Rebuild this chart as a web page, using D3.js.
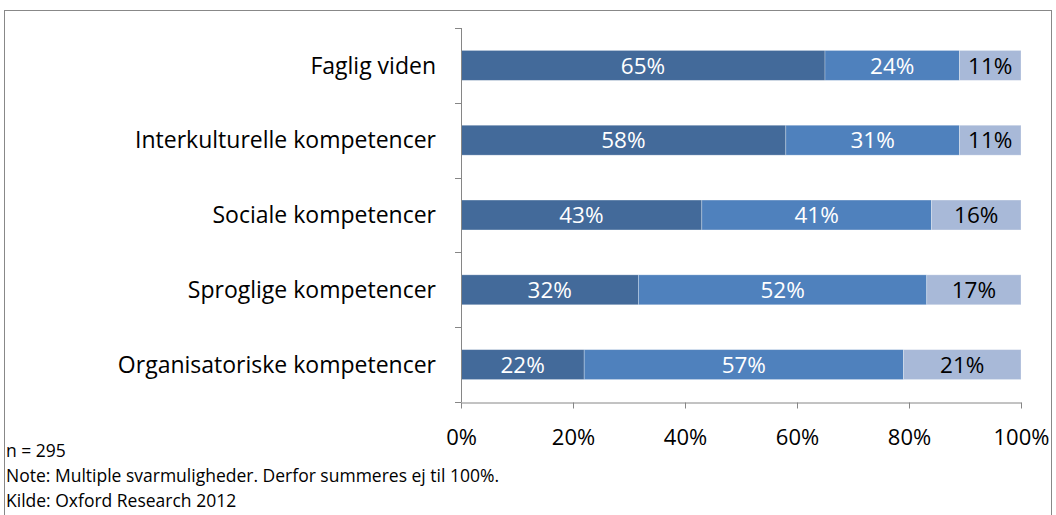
<!DOCTYPE html>
<html>
<head>
<meta charset="utf-8">
<script src="https://cdn.jsdelivr.net/npm/d3@7"></script>
<style>
  body { margin: 0; background: #fff; }
  text { font-family: "Open Sans", "Noto Sans", sans-serif; }
</style>
</head>
<body>
<div id="chart"></div>
<script>
var categories = ["Faglig viden", "Interkulturelle kompetencer", "Sociale kompetencer", "Sproglige kompetencer", "Organisatoriske kompetencer"];
var seriesA = [65, 58, 43, 32, 22];
var seriesB = [24, 31, 41, 52, 57];
var seriesC = [11, 11, 16, 17, 21];
var xTicks = [0, 0.2, 0.4, 0.6, 0.8, 1];
var notes = ["n = 295", "Note: Multiple svarmuligheder. Derfor summeres ej til 100%.", "Kilde: Oxford Research 2012"];

var colors = ["#436a9a", "#4f81bd", "#a8b9d8"];
var labelColors = ["#fff", "#fff", "#000"];

var width = 1056, height = 515;
var svg = d3.select("#chart").append("svg")
  .attr("width", width)
  .attr("height", height);

// outer frame
svg.append("rect")
  .attr("x", 4.5).attr("y", 10.5)
  .attr("width", 1047).attr("height", 520)
  .attr("fill", "none")
  .attr("stroke", "#888")
  .attr("stroke-width", 1);

var rows = categories.map(function(c, i) {
  return { cat: c, a: seriesA[i], b: seriesB[i], c: seriesC[i] };
});

// 100% stacked: each row is scaled to its own total
var stack = d3.stack().keys(["a", "b", "c"]).offset(d3.stackOffsetExpand);
var layers = stack(rows);

var x = d3.scaleLinear().domain([0, 1]).range([461, 1021]);
var y = d3.scaleBand().domain(categories).range([28, 402])
  .paddingInner(0.6).paddingOuter(0.3);

var g = svg.append("g");

layers.forEach(function(layer, li) {
  var lg = g.append("g");
  lg.selectAll("rect")
    .data(layer)
    .enter().append("rect")
    .attr("x", function(d) { return x(d[0]); })
    .attr("y", function(d) { return y(d.data.cat); })
    .attr("width", function(d) { return x(d[1]) - x(d[0]); })
    .attr("height", y.bandwidth())
    .attr("fill", colors[li])
    .attr("stroke", "rgba(255,255,255,0.35)")
    .attr("stroke-width", 0.8);

  lg.selectAll("text")
    .data(layer)
    .enter().append("text")
    .attr("x", function(d) { return (x(d[0]) + x(d[1])) / 2; })
    .attr("y", function(d) { return y(d.data.cat) + y.bandwidth() / 2; })
    .attr("dy", "0.36em")
    .attr("text-anchor", "middle")
    .attr("font-size", 22.5)
    .attr("fill", labelColors[li])
    .text(function(d) { return d.data[layer.key] + "%"; });
});

// y axis
var yAxisG = svg.append("g");
yAxisG.append("line")
  .attr("x1", 461.5).attr("x2", 461.5)
  .attr("y1", 28).attr("y2", 402)
  .attr("stroke", "#868686");
var bounds = d3.range(categories.length + 1).map(function(i) { return 28 + i * y.step(); });
yAxisG.selectAll("line.tick")
  .data(bounds)
  .enter().append("line")
  .attr("class", "tick")
  .attr("x1", 455).attr("x2", 461)
  .attr("y1", function(d) { return Math.round(d) + 0.5; })
  .attr("y2", function(d) { return Math.round(d) + 0.5; })
  .attr("stroke", "#868686");
yAxisG.selectAll("text")
  .data(categories)
  .enter().append("text")
  .attr("x", 436)
  .attr("y", function(d) { return y(d) + y.bandwidth() / 2; })
  .attr("dy", "0.36em")
  .attr("text-anchor", "end")
  .attr("font-size", 23)
  .attr("fill", "#000")
  .text(function(d) { return d; });

// x axis
var xAxis = d3.axisBottom(x)
  .tickValues(xTicks)
  .tickSize(6)
  .tickFormat(d3.format(".0%"));
var xg = svg.append("g")
  .attr("transform", "translate(0,402.5)")
  .call(xAxis);
xg.select(".domain").attr("stroke", "#868686").attr("d", "M461,0.5H1021.5");
xg.selectAll(".tick line").attr("stroke", "#868686");
xg.selectAll(".tick text")
  .attr("font-family", "Open Sans, Noto Sans, sans-serif")
  .attr("font-size", 22)
  .attr("fill", "#000")
  .attr("y", 35)
  .attr("dy", "0.36em");

// notes
svg.selectAll("text.note")
  .data(notes)
  .enter().append("text")
  .attr("class", "note")
  .attr("x", 6)
  .attr("y", function(d, i) { return 457 + i * 25; })
  .attr("font-size", 17.5)
  .attr("fill", "#000")
  .text(function(d) { return d; });
</script>
</body>
</html>
